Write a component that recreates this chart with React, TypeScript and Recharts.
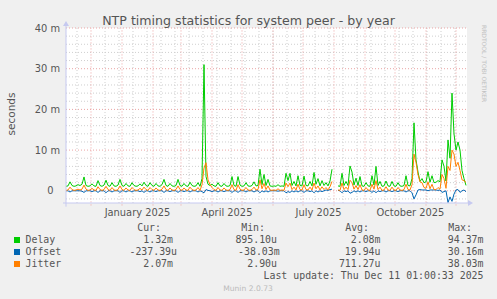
import { LineChart, Line, XAxis, YAxis, CartesianGrid, ReferenceLine, ReferenceDot } from 'recharts'

// one sample every 2 days, starting 6 Nov 2024 (day 0) to 11 Dec 2025 (day 400); values in milliseconds
const delay = [
  1.1, 1.2, 2.2, 1.3, 1.1, 1.2, 1.5, 1.3, 1.6, 3.4,
  1.3, 1.1, 1.2, 1.7, 1.2, 1.1, 2.5, 1.3, 1.1, 1.4,
  2.6, 1.3, 1.1, 2.0, 1.2, 1.1, 1.4, 2.8, 1.3, 1.1,
  1.8, 1.2, 1.1, 2.0, 1.3, 1.1, 1.2, 1.7, 1.2, 2.1,
  1.3, 1.1, 2.0, 1.3, 1.1, 1.8, 1.2, 1.1, 1.5, 2.8,
  1.3, 1.1, 1.8, 1.2, 1.1, 1.3, 2.8, 1.3, 1.1, 1.8,
  1.2, 1.1, 2.1, 1.3, 1.1, 1.2, 2.0, 1.1, 3.0, 31.0,
  3.5, 1.6, 1.3, 1.6, 1.2, 1.1, 2.0, 1.2, 1.1, 1.8,
  1.2, 1.1, 1.3, 3.5, 1.3, 1.1, 3.5, 1.4, 1.1, 1.2,
  2.0, 1.2, 1.1, 1.3, 2.2, 1.2, 1.3, 5.3, 1.5, 4.0,
  1.3, 2.8, 1.2, 1.1, 1.2, 1.1, 1.5, 1.1, 1.2, 1.1,
  4.3, 2.5, 4.3, 1.3, 2.3, 1.2, 3.7, 1.3, 1.2, 3.6,
  1.3, 1.2, 2.3, 1.2, 4.5, 1.6, 3.0, 1.2, 2.5, 1.3,
  2.0, 1.2, 2.4, 5.3, null, null, 1.2, 1.1, 4.3, 1.3,
  2.3, 1.3, 6.1, 4.6, 1.4, 3.1, 1.3, 3.5, 1.2, 1.1,
  2.0, 1.2, 1.1, 3.7, 1.4, 6.0, 1.3, 2.3, 1.1, 1.2,
  2.4, 1.2, 1.1, 2.3, 1.2, 1.1, 2.0, 1.2, 1.1, 1.3,
  3.7, 1.3, 1.2, 3.0, 16.7, 7.6, 4.6, 2.3, 3.0, 2.0,
  2.2, 4.7, 2.1, 3.7, 2.0, 2.1, 2.5, 2.2, 7.6, 6.0,
  2.4, 12.5, 8.0, 24.0, 14.0, 10.0, 12.0, 10.0, 5.0, 3.0,
  1.32,
]

const offset = [
  0.0, 0.0, -0.3, 0.0, 0.0, 0.0, 0.0, 0.0, -0.1, -0.4,
  0.0, 0.0, 0.0, -0.2, 0.0, 0.0, -0.4, 0.0, 0.0, 0.0,
  -0.5, 0.0, 0.0, -0.3, 0.0, 0.0, 0.0, -0.4, 0.0, 0.0,
  -0.3, 0.0, 0.0, -0.3, 0.0, 0.0, 0.0, -0.2, 0.0, -0.4,
  0.0, 0.0, -0.3, 0.0, 0.0, -0.2, 0.0, 0.0, 0.0, -0.4,
  0.0, 0.0, -0.2, 0.0, 0.0, 0.0, -0.4, 0.0, 0.0, -0.2,
  0.0, 0.0, -0.3, 0.0, 0.0, 0.0, -0.3, 0.0, -0.2, -0.5,
  0.3, 0.1, 0.0, -0.2, 0.0, 0.0, -0.3, 0.0, 0.0, -0.2,
  0.0, 0.0, 0.0, -0.4, 0.0, 0.0, -0.4, 0.0, 0.0, 0.0,
  -0.3, 0.0, 0.0, 0.0, -0.3, 0.0, 0.0, -0.5, 0.0, -0.3,
  0.0, -0.3, 0.0, 0.0, 0.0, 0.0, -0.1, 0.0, 0.0, 0.0,
  -0.5, -0.2, -0.4, 0.0, -0.3, 0.0, -0.3, 0.0, 0.0, -0.4,
  0.0, 0.0, -0.2, 0.0, -0.5, 0.0, -0.3, 0.0, -0.2, 0.0,
  0.2, 0.1, 0.3, 0.4, null, null, 0.1, 0.0, -0.5, 0.0,
  -0.2, 0.0, -0.6, -0.4, 0.0, -0.3, 0.0, -0.3, 0.0, 0.0,
  -0.2, 0.0, 0.0, -0.4, 0.0, -0.5, 0.0, -0.2, 0.0, 0.0,
  -0.3, 0.0, 0.0, -0.2, 0.0, 0.0, -0.2, 0.0, 0.0, 0.0,
  -0.3, 0.0, 0.0, -0.5, -2.0, -1.0, 0.2, 0.3, 0.2, 0.2,
  0.2, 0.0, 0.2, 0.2, 0.2, 0.2, 0.1, 0.2, -0.4, -0.2,
  0.0, -2.9, -1.5, -2.6, -0.8, 0.2, 0.3, -0.4, 0.0, 0.2,
  -0.24,
]

const jitter = [
  0.1, 0.2, 0.9, 0.3, 0.1, 0.2, 0.4, 0.2, 0.4, 1.4,
  0.4, 0.1, 0.2, 0.6, 0.2, 0.1, 1.0, 0.3, 0.1, 0.3,
  1.1, 0.3, 0.1, 0.8, 0.2, 0.1, 0.3, 1.2, 0.3, 0.1,
  0.7, 0.2, 0.1, 0.8, 0.3, 0.1, 0.2, 0.6, 0.2, 0.9,
  0.3, 0.1, 0.8, 0.3, 0.1, 0.7, 0.2, 0.1, 0.4, 1.2,
  0.3, 0.1, 0.7, 0.2, 0.1, 0.3, 1.2, 0.3, 0.1, 0.7,
  0.2, 0.1, 0.9, 0.3, 0.1, 0.2, 0.8, 0.1, 1.5, 5.6,
  6.9, 2.7, 1.5, 0.8, 0.3, 0.1, 0.8, 0.2, 0.1, 0.7,
  0.2, 0.1, 0.3, 1.5, 0.3, 0.1, 1.5, 0.4, 0.1, 0.2,
  0.8, 0.2, 0.1, 0.3, 0.9, 0.2, 0.3, 2.7, 0.5, 1.8,
  0.3, 1.2, 0.2, 0.1, 0.2, 0.1, 0.5, 0.1, 0.2, 0.1,
  1.9, 1.0, 1.9, 0.3, 0.9, 0.2, 1.6, 0.3, 0.2, 1.5,
  0.3, 0.2, 0.9, 0.2, 1.9, 0.5, 1.2, 0.2, 1.0, 0.3,
  0.8, 0.2, 1.0, 2.3, null, null, 0.2, 0.1, 1.9, 0.3,
  0.9, 0.3, 2.6, 2.0, 0.4, 1.3, 0.3, 1.5, 0.2, 0.1,
  0.8, 0.2, 0.1, 1.6, 0.4, 2.5, 0.3, 0.9, 0.1, 0.2,
  1.0, 0.2, 0.1, 0.9, 0.2, 0.1, 0.8, 0.2, 0.1, 0.3,
  1.6, 0.3, 0.2, 1.5, 9.0, 7.0, 4.0, 2.2, 2.0, 0.8,
  0.6, 2.2, 0.5, 1.6, 0.3, 0.3, 0.8, 0.4, 4.0, 3.0,
  0.6, 6.0, 5.0, 10.0, 9.0, 6.0, 7.0, 5.0, 2.7, 2.5,
  2.07,
]

// x axis (days since 6 Nov 2024)
const monthStarts = [25, 56, 87, 115, 146, 176, 207, 237, 268, 299, 329, 360, 390]
const minorDays = [11, 39, 53, 67, 81, 95, 109, 123, 137, 151, 165, 179, 193, 207, 221, 235, 249, 263, 277, 291, 305, 319, 333, 347, 361, 375, 389]
const monthLabelDays = [71.5, 161, 252.5, 344.5]
const monthLabels = ['January 2025', 'April 2025', 'July 2025', 'October 2025']

// y axis (milliseconds)
const majorY = [0, 10, 20, 30, 40]
const minorY = [-2, 2, 4, 6, 8, 12, 14, 16, 18, 22, 24, 26, 28, 32, 34, 36, 38]

const legendRows = [
  { name: 'Delay', color: '#00cc00', cur: '1.32m', min: '895.10u', avg: '2.08m', max: '94.37m' },
  { name: 'Offset', color: '#0066b3', cur: '-237.39u', min: '-38.03m', avg: '19.94u', max: '30.16m' },
  { name: 'Jitter', color: '#ff8000', cur: '2.07m', min: '2.90u', avg: '711.27u', max: '38.03m' },
]

const chartData = delay.map((d, i) => ({ day: i * 2, delay: d, offset: offset[i], jitter: jitter[i] }))

const SANS = 'DejaVu Sans'
const MONO = 'DejaVu Sans Mono'
const TEXT = '#555555'
const GRID = '#cfcfcf'
const MGRID = '#eba4a4'
const AXIS = '#c6c9f0'

const YTick = ({ x, y, payload }: any) => (
  <text x={payload.value === 0 ? x - 12.5 : x - 6} y={y + 3.5} textAnchor="end" fontFamily={SANS} fontSize={9.9} fill={TEXT}>
    {payload.value === 0 ? '0' : `${payload.value} m`}
  </text>
)

const XTick = ({ x, y, payload }: any) => (
  <text x={x} y={y + 12.5} textAnchor="middle" fontFamily={SANS} fontSize={9.9} fill={TEXT}>
    {monthLabels[monthLabelDays.indexOf(payload.value)]}
  </text>
)

const UpArrow = ({ cx, cy }: any) => (
  <polygon points={`${cx - 3},${cy - 2} ${cx + 3},${cy - 2} ${cx},${cy - 7}`} fill={AXIS} />
)
const RightArrow = ({ cx, cy }: any) => (
  <polygon points={`${cx + 1},${cy - 3} ${cx + 1},${cy + 3} ${cx + 6},${cy}`} fill={AXIS} />
)

export default function App() {
  return (
    <div style={{ position: 'fixed', left: 0, top: 0, width: 497, height: 299, background: '#f0f0f0' }}>
      <LineChart width={497} height={299} data={chartData} margin={{ top: 28, right: 30, bottom: 76, left: 0 }}>
        <CartesianGrid fill="#ffffff" horizontal={false} vertical={false} />
        {minorY.map((v) => (
          <ReferenceLine key={`hy${v}`} y={v} stroke={GRID} strokeDasharray="1 2" />
        ))}
        {minorDays.map((d) => (
          <ReferenceLine key={`vx${d}`} x={d} stroke={GRID} strokeDasharray="1 2" />
        ))}
        {majorY.map((v) => (
          <ReferenceLine key={`my${v}`} y={v} stroke={MGRID} strokeDasharray="1 2" />
        ))}
        {monthStarts.map((d) => (
          <ReferenceLine key={`mx${d}`} segment={[{ x: d, y: -3.6 }, { x: d, y: 40 }]} stroke={MGRID} strokeDasharray="1 2" ifOverflow="visible" />
        ))}
        <XAxis
          dataKey="day"
          type="number"
          domain={[0, 401]}
          ticks={monthLabelDays}
          interval={0}
          axisLine={false}
          tickLine={false}
          tickSize={0}
          tickMargin={0}
          height={20}
          tick={<XTick />}
        />
        <YAxis
          domain={[-3, 40]}
          ticks={majorY}
          interval={0}
          allowDataOverflow
          axisLine={false}
          tickLine={false}
          tickSize={0}
          tickMargin={0}
          width={66}
          tick={<YTick />}
        />
        <Line type="linear" dataKey="delay" stroke="#00cc00" strokeWidth={1} dot={false} isAnimationActive={false} />
        <Line type="linear" dataKey="offset" stroke="#0066b3" strokeWidth={1} dot={false} isAnimationActive={false} />
        <Line type="linear" dataKey="jitter" stroke="#ff8000" strokeWidth={1} dot={false} isAnimationActive={false} />
        <ReferenceLine segment={[{ x: 0, y: -3.9 }, { x: 0, y: 40.5 }]} stroke={AXIS} ifOverflow="visible" />
        <ReferenceLine segment={[{ x: -3, y: -3 }, { x: 402, y: -3 }]} stroke={AXIS} ifOverflow="visible" />
        <ReferenceDot x={0} y={40} ifOverflow="visible" shape={<UpArrow />} />
        <ReferenceDot x={401} y={-3} ifOverflow="visible" shape={<RightArrow />} />
      </LineChart>

      <svg width={497} height={299} style={{ position: 'absolute', left: 0, top: 0, pointerEvents: 'none' }}>
        <text x={248.5} y={24.5} textAnchor="middle" fontFamily={SANS} fontSize={12.6} fill={TEXT}>
          NTP timing statistics for system peer - by year
        </text>
        <text x={15} y={114} transform="rotate(-90 15 114)" textAnchor="middle" fontFamily={SANS} fontSize={10.5} fill={TEXT}>
          seconds
        </text>
        <text x={482} y={25} transform="rotate(90 482 25)" fontFamily={SANS} fontSize={6} fill="#c0c0c0">
          RRDTOOL / TOBI OETIKER
        </text>

        <g fontFamily={MONO} fontSize={9.9} fill={TEXT}>
          <text x={161} y={231} textAnchor="end">Cur:</text>
          <text x={265} y={231} textAnchor="end">Min:</text>
          <text x={369} y={231} textAnchor="end">Avg:</text>
          <text x={472} y={231} textAnchor="end">Max:</text>
          {legendRows.map((r, i) => {
            const by = 243 + i * 12
            const shift = r.cur.startsWith('-') ? 4 : 0
            const mshift = r.min.startsWith('-') ? 2.7 : 0
            return (
              <g key={r.name}>
                <rect x={14} y={by - 6} width={6} height={6} fill={r.color} />
                <text x={25.5} y={by}>{r.name}</text>
                <text x={173 + shift} y={by} textAnchor="end">{r.cur}</text>
                <text x={277 + mshift} y={by} textAnchor="end">{r.min}</text>
                <text x={380.5} y={by} textAnchor="end">{r.avg}</text>
                <text x={483.5} y={by} textAnchor="end">{r.max}</text>
              </g>
            )
          })}
          <text x={483.5} y={279} textAnchor="end">Last update: Thu Dec 11 01:00:33 2025</text>
        </g>
        <text x={248} y={291} textAnchor="middle" fontFamily={SANS} fontSize={7.6} fill="#bbbbbb">
          Munin 2.0.73
        </text>
      </svg>
    </div>
  )
}
